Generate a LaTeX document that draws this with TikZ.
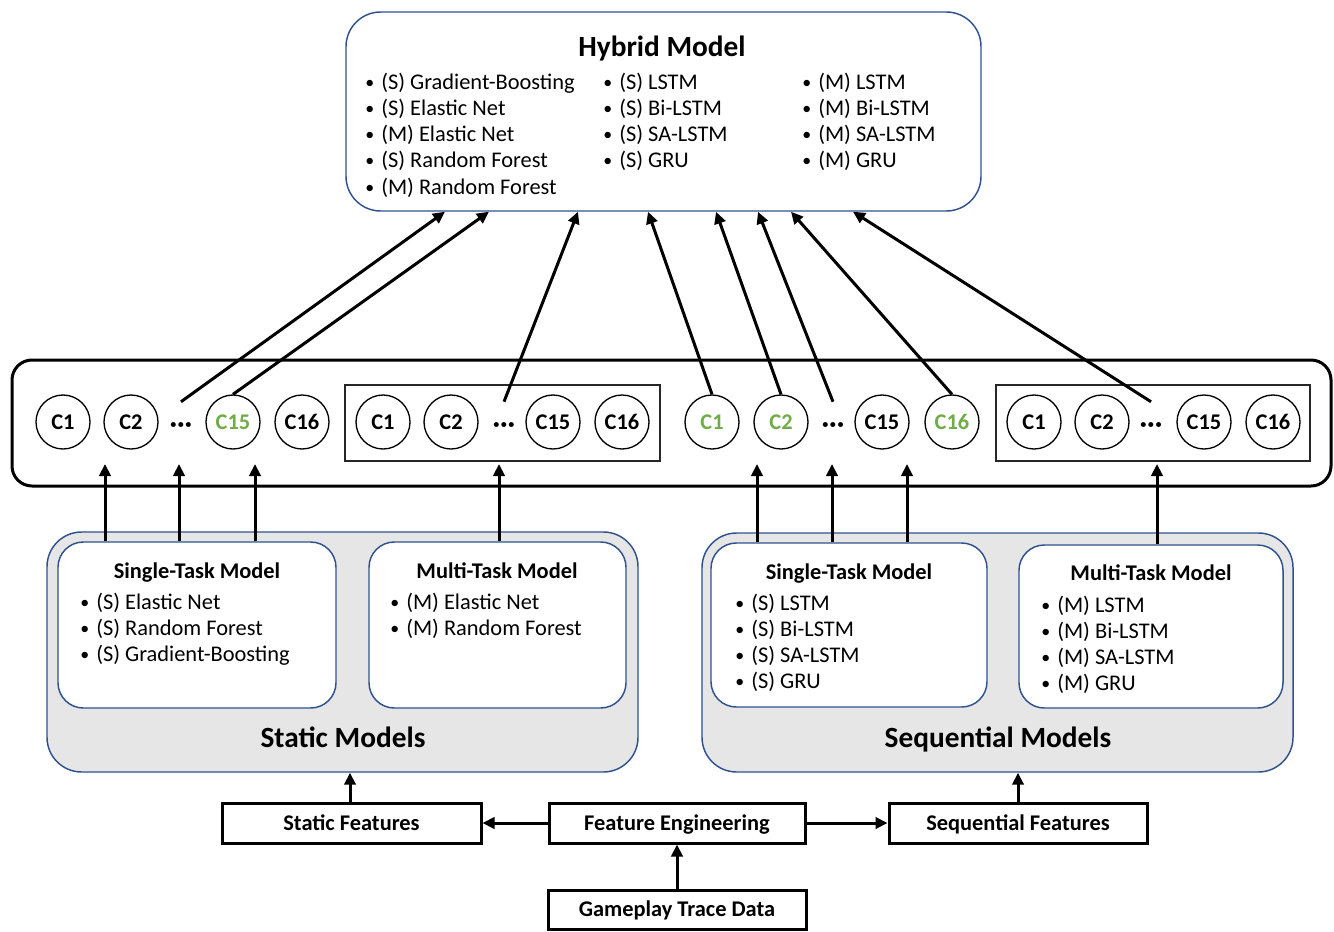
\documentclass[tikz,border=0pt]{standalone}
\usepackage{graphicx}
\usepackage{fontspec}
\setmainfont{Carlito}
\usetikzlibrary{arrows.meta,fit}
\definecolor{bblue}{RGB}{47,82,143}
\definecolor{cgreen}{RGB}{112,173,71}
\definecolor{lgray}{RGB}{231,230,230}
\newcommand{\bul}[1]{\makebox[12pt][l]{\raisebox{0.6pt}{\scalebox{0.8}{•}}}#1}
\begin{document}
\begin{tikzpicture}[x=0.75pt,y=-0.75pt,
  bluebox/.style={draw=bblue, line width=1.1pt, inner sep=0pt},
  blackbox/.style={draw=black, line width=2.25pt, inner sep=0pt},
  thinbox/.style={draw=black!85, line width=1pt, inner sep=0pt},
  txt/.style={inner sep=0pt, text height=10.8pt, text depth=0pt, font=\fontsize{16.8}{20}\selectfont},
  itm/.style={txt, anchor=west},
  bt/.style={inner sep=0pt, text height=10.8pt, text depth=0pt, font=\fontsize{16.8}{20}\selectfont\bfseries},
  big/.style={inner sep=0pt, text height=14pt, text depth=0pt, font=\fontsize{22}{26}\selectfont\bfseries},
  circ/.style={draw, circle, line width=1pt, minimum size=40.5pt, inner sep=0pt, font=\fontsize{16.8}{20}\selectfont\bfseries},
  circg/.style={circ, text=cgreen},
  dotsn/.style={inner sep=0pt, minimum height=30pt, text height=15pt, text depth=0pt, font=\fontsize{20}{22}\selectfont\bfseries},
  arr/.style={line width=2.25pt, -{Triangle[length=9pt,width=8.5pt]}}
]
\useasboundingbox (0,0) rectangle (1334,931);

% ---------- Hybrid model ----------
\node[bluebox, fill=white, rounded corners=26pt, fit={(346,12)(981,211)}] (hyb) {};
\node[big] (hybt) at (662,47) {Hybrid Model};
\node[itm] (h11) at (365,82)  {\bul{(S) Gradient-Boosting}};
\node[itm] (h12) at (365,108) {\bul{(S) Elastic Net}};
\node[itm] (h13) at (365,134) {\bul{(M) Elastic Net}};
\node[itm] (h14) at (365,160) {\bul{(S) Random Forest}};
\node[itm] (h15) at (365,187) {\bul{(M) Random Forest}};
\node[itm] (h21) at (603,82)  {\bul{(S) LSTM}};
\node[itm] (h22) at (603,108) {\bul{(S) Bi-LSTM}};
\node[itm] (h23) at (603,134) {\bul{(S) SA-LSTM}};
\node[itm] (h24) at (603,160) {\bul{(S) GRU}};
\node[itm] (h31) at (802,82)  {\bul{(M) LSTM}};
\node[itm] (h32) at (802,108) {\bul{(M) Bi-LSTM}};
\node[itm] (h33) at (802,134) {\bul{(M) SA-LSTM}};
\node[itm] (h34) at (802,160) {\bul{(M) GRU}};

% ---------- middle band ----------
\node[blackbox, rounded corners=15pt, fit={(12,360)(1331,486)}] (mid) {};
\node[thinbox, fit={(345,385)(660,461)}] (grpB) {};
\node[thinbox, fit={(996,385)(1310,461)}] (grpD) {};

\node[circ]  (a1)  at (63,422)  {C1};
\node[circ]  (a2)  at (131,422) {C2};
\node[dotsn] (aD)  at (181,422) {·\kern0.3pt·\kern0.3pt·};
\node[circg] (a15) at (233,422) {C15};
\node[circ]  (a16) at (302,422) {C16};

\node[circ]  (b1)  at (383,422) {C1};
\node[circ]  (b2)  at (451,422) {C2};
\node[dotsn] (bD)  at (504,422) {·\kern0.3pt·\kern0.3pt·};
\node[circ]  (b15) at (553,422) {C15};
\node[circ]  (b16) at (622,422) {C16};

\node[circg] (c1)  at (712,422) {C1};
\node[circg] (c2)  at (781,422) {C2};
\node[dotsn] (cD)  at (833,422) {·\kern0.3pt·\kern0.3pt·};
\node[circ]  (c15) at (882,422) {C15};
\node[circg] (c16) at (952,422) {C16};

\node[circ]  (d1)  at (1034,422) {C1};
\node[circ]  (d2)  at (1102,422) {C2};
\node[dotsn] (dD)  at (1151,422) {·\kern0.3pt·\kern0.3pt·};
\node[circ]  (d15) at (1204,422) {C15};
\node[circ]  (d16) at (1273,422) {C16};

% targets on the hybrid box
\coordinate (x1) at (445,0);
\coordinate (x2) at (489,0);
\coordinate (x3) at (578,0);
\coordinate (x4) at (648,0);
\coordinate (x5) at (716,0);
\coordinate (x6) at (758,0);
\coordinate (x7) at (791,0);
\coordinate (x8) at (853,0);
\draw[arr] (aD.north)  -- (x1 |- hyb.south);
\draw[arr] (a15.north) -- (x2 |- hyb.south);
\draw[arr] (bD.north)  -- (x3 |- hyb.south);
\draw[arr] (c1.north)  -- (x4 |- hyb.south);
\draw[arr] (c2.north)  -- (x5 |- hyb.south);
\draw[arr] (cD.north)  -- (x6 |- hyb.south);
\draw[arr] (c16.north) -- (x7 |- hyb.south);
\draw[arr] (dD.north)  -- (x8 |- hyb.south);

% ---------- Static models ----------
\node[bluebox, fill=lgray, rounded corners=26pt, fit={(47,532)(638,772)}] (stat) {};
\node[bluebox, fill=white, rounded corners=19pt, fit={(58,542)(336,708)}] (ss) {};
\node[bluebox, fill=white, rounded corners=19pt, fit={(369,542)(626,708)}] (sm) {};
\node[bt] (sst) at (197,571) {Single-Task Model};
\node[itm] (ss1) at (80,602) {\bul{(S) Elastic Net}};
\node[itm] (ss2) at (80,628) {\bul{(S) Random Forest}};
\node[itm] (ss3) at (80,654) {\bul{(S) Gradient-Boosting}};
\node[bt] (smt) at (497,571) {Multi-Task Model};
\node[itm] (sm1) at (390,602) {\bul{(M) Elastic Net}};
\node[itm] (sm2) at (390,628) {\bul{(M) Random Forest}};
\node[big] (statt) at (343,738) {Static Models};

% ---------- Sequential models ----------
\node[bluebox, fill=lgray, rounded corners=26pt, fit={(702,533)(1293,772)}] (seq) {};
\node[bluebox, fill=white, rounded corners=19pt, fit={(711,543)(987,707)}] (qs) {};
\node[bluebox, fill=white, rounded corners=19pt, fit={(1019,545)(1283,708)}] (qm) {};
\node[bt] (qst) at (849,572) {Single-Task Model};
\node[itm] (qs1) at (735,603) {\bul{(S) LSTM}};
\node[itm] (qs2) at (735,629) {\bul{(S) Bi-LSTM}};
\node[itm] (qs3) at (735,655) {\bul{(S) SA-LSTM}};
\node[itm] (qs4) at (735,681) {\bul{(S) GRU}};
\node[bt] (qmt) at (1151,573) {Multi-Task Model};
\node[itm] (qm1) at (1041,605) {\bul{(M) LSTM}};
\node[itm] (qm2) at (1041,631) {\bul{(M) Bi-LSTM}};
\node[itm] (qm3) at (1041,657) {\bul{(M) SA-LSTM}};
\node[itm] (qm4) at (1041,683) {\bul{(M) GRU}};
\node[big] (seqt) at (998,738) {Sequential Models};

% arrows into the middle band
\coordinate (e1) at (105,464);
\coordinate (e2) at (179,464);
\coordinate (e3) at (255,464);
\coordinate (e4) at (499,464);
\coordinate (e5) at (757,464);
\coordinate (e6) at (832,464);
\coordinate (e7) at (907,464);
\coordinate (e8) at (1157,464);
\draw[arr] (ss.north -| e1) -- (e1);
\draw[arr] (ss.north -| e2) -- (e2);
\draw[arr] (ss.north -| e3) -- (e3);
\draw[arr] (sm.north -| e4) -- (e4);
\draw[arr] (qs.north -| e5) -- (e5);
\draw[arr] (qs.north -| e6) -- (e6);
\draw[arr] (qs.north -| e7) -- (e7);
\draw[arr] (qm.north -| e8) -- (e8);

% ---------- bottom boxes ----------
\node[blackbox, fit={(222,803)(481,843)}] (sf) {};
\node[blackbox, fit={(549,803)(805,843)}] (fe) {};
\node[blackbox, fit={(889,803)(1147,843)}] (qf) {};
\node[blackbox, fit={(548,890)(806,929)}] (gt) {};
\node[bt] (sfl) at (sf.center) {Static Features};
\node[bt] (fel) at (fe.center) {Feature Engineering};
\node[bt] (qfl) at (qf.center) {Sequential Features};
\node[bt] (gtl) at (gt.center) {Gameplay Trace Data};

\coordinate (s1) at (350,0);
\coordinate (s2) at (1018,0);
\draw[arr] (fe.west) -- (sf.east);
\draw[arr] (fe.east) -- (qf.west);
\draw[arr] (gt.north) -- (fe.south);
\draw[arr] (sf.north -| s1) -- (stat.south -| s1);
\draw[arr] (qf.north -| s2) -- (seq.south -| s2);
\end{tikzpicture}
\end{document}
